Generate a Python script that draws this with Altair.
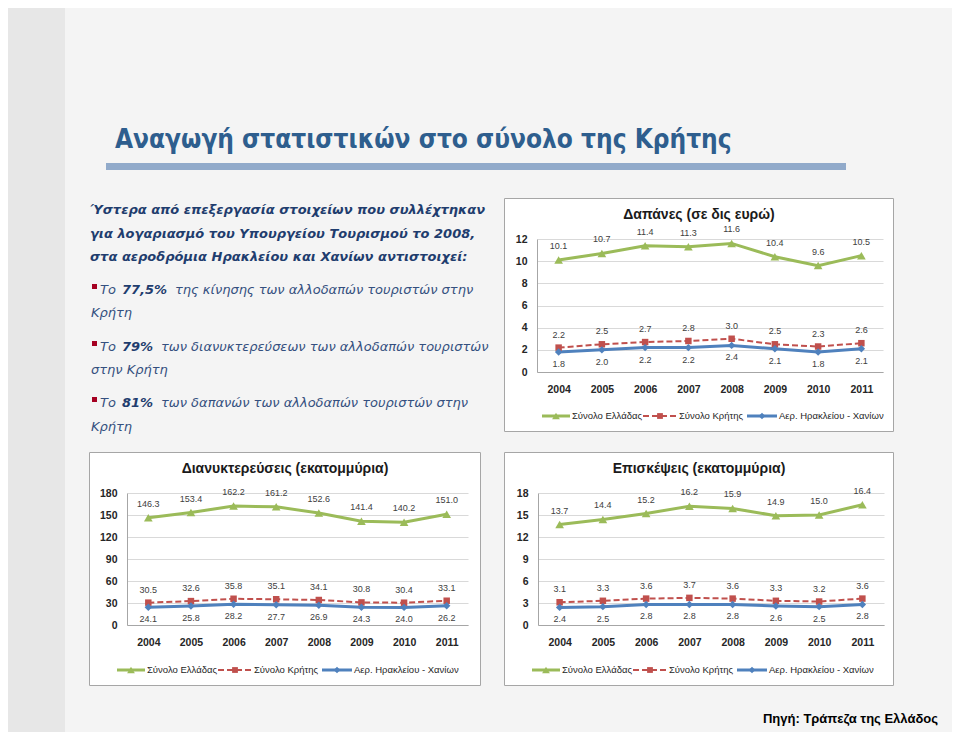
import altair as alt
import pandas as pd

# ---------------- data ----------------
YEARS = ["2004", "2005", "2006", "2007", "2008", "2009", "2010", "2011"]
SERIES = ["Σύνολο Ελλάδας", "Σύνολο Κρήτης", "Αερ. Ηρακλείου - Χανίων"]

dap_title = "Δαπάνες (σε δις ευρώ)"
dap_greece = [10.1, 10.7, 11.4, 11.3, 11.6, 10.4, 9.6, 10.5]
dap_crete = [2.2, 2.5, 2.7, 2.8, 3.0, 2.5, 2.3, 2.6]
dap_air = [1.8, 2.0, 2.2, 2.2, 2.4, 2.1, 1.8, 2.1]
dap_ticks = [0, 2, 4, 6, 8, 10, 12]

dian_title = "Διανυκτερεύσεις (εκατομμύρια)"
dian_greece = [146.3, 153.4, 162.2, 161.2, 152.6, 141.4, 140.2, 151.0]
dian_crete = [30.5, 32.6, 35.8, 35.1, 34.1, 30.8, 30.4, 33.1]
dian_air = [24.1, 25.8, 28.2, 27.7, 26.9, 24.3, 24.0, 26.2]
dian_ticks = [0, 30, 60, 90, 120, 150, 180]

epi_title = "Επισκέψεις (εκατομμύρια)"
epi_greece = [13.7, 14.4, 15.2, 16.2, 15.9, 14.9, 15.0, 16.4]
epi_crete = [3.1, 3.3, 3.6, 3.7, 3.6, 3.3, 3.2, 3.6]
epi_air = [2.4, 2.5, 2.8, 2.8, 2.8, 2.6, 2.5, 2.8]
epi_ticks = [0, 3, 6, 9, 12, 15, 18]

SLIDE_TITLE = "Αναγωγή στατιστικών στο σύνολο της Κρήτης"
HEAD_LINES = [
    "Ύστερα από επεξεργασία στοιχείων που συλλέχτηκαν",
    "για λογαριασμό του Υπουργείου Τουρισμού το 2008,",
    "στα αεροδρόμια Ηρακλείου και Χανίων αντιστοιχεί:",
]
BULLET_PCT = ["77,5%", "79%", "81%"]
BULLET_REST = [
    "της κίνησης των αλλοδαπών τουριστών στην",
    "των διανυκτερεύσεων των αλλοδαπών τουριστών",
    "των δαπανών των αλλοδαπών τουριστών στην",
]
BULLET_CONT = ["Κρήτη", "στην Κρήτη", "Κρήτη"]
SOURCE = "Πηγή: Τράπεζα της Ελλάδος"

# ---------------- styles ----------------
FONT = "Liberation Sans"
TFONT = "DejaVu Sans"
BAND = "#E7E7E7"
STYLES = [
    dict(color="#9BBB59", shape="triangle-up", size=75, width=3, dash=None, dy=-14),
    dict(color="#C0504D", shape="square", size=42, width=2, dash=[6, 3], dy=-13),
    dict(color="#4F81BD", shape="diamond", size=55, width=3, dash=None, dy=12),
]
LEG = [(28, 56, 58), (129, 163, 165), (233, 263, 265)]


def one(**cols):
    return alt.Chart(pd.DataFrame({k: [v] for k, v in cols.items()}))


def band(h):
    return one(t="band").mark_rect(color=BAND).encode(
        x=alt.value(0), x2=alt.value(57), y=alt.value(0), y2=alt.value(h))


def panel(title, seriesvals, ticks, W, H, pl, pr, y0, y1, leg_dx, ly):
    recs = []
    for name, vals in zip(SERIES, seriesvals):
        for yr, v in zip(YEARS, vals):
            recs.append({"year": yr, "series": name, "value": v, "label": f"{v:.1f}"})
    df = pd.DataFrame(recs)
    X = alt.X(
        "year:O", sort=YEARS,
        scale=alt.Scale(type="point", range=[pl, pr], padding=0.5),
        axis=alt.Axis(title=None, labelAngle=0, ticks=False, tickSize=0, grid=False,
                      domainColor="#A6A6A6", labelFont=FONT, labelFontSize=10.5,
                      labelFontWeight="bold", labelColor="#262626", labelPadding=12,
                      offset=-(H - y0)),
    )
    Y = alt.Y(
        "value:Q",
        scale=alt.Scale(domain=[ticks[0], ticks[-1]], range=[y0, y1], nice=False, zero=False),
        axis=alt.Axis(title=None, values=ticks, ticks=False, tickSize=0, grid=True,
                      gridColor="#D9D9D9", domainColor="#A6A6A6", labelFont=FONT,
                      labelFontSize=10.5, labelFontWeight="bold", labelColor="#262626",
                      labelPadding=10, offset=-pl),
    )
    frame = one(t="frame").mark_rect(fillOpacity=0, stroke="#A6A6A6", strokeWidth=1).encode(
        x=alt.value(0.5), x2=alt.value(W - 0.5), y=alt.value(0.5), y2=alt.value(H - 0.5))
    base = alt.Chart(df)
    lines, points, labels, legend = [], [], [], []
    for i, (name, st) in enumerate(zip(SERIES, STYLES)):
        sub = base.transform_filter(alt.datum.series == name)
        lk = dict(color=st["color"], strokeWidth=st["width"])
        if st["dash"]:
            lk["strokeDash"] = st["dash"]
        lines.append(sub.mark_line(**lk).encode(x=X, y=Y))
        points.append(sub.mark_point(filled=True, opacity=1, shape=st["shape"],
                                     size=st["size"], color=st["color"]).encode(x=X, y=Y))
        labels.append(sub.mark_text(dy=st["dy"], fontSize=9, font=FONT, color="#404040")
                      .encode(x=X, y=Y, text="label:N"))
        a, b, t = LEG[i]
        lg = one(s=name)
        legend.append(lg.mark_rule(**lk).encode(x=alt.value(a + leg_dx), x2=alt.value(b + leg_dx),
                                                 y=alt.value(ly)))
        legend.append(lg.mark_point(filled=True, opacity=1, shape=st["shape"],
                                    size=st["size"] * 0.8, color=st["color"])
                      .encode(x=alt.value((a + b) / 2 + leg_dx), y=alt.value(ly)))
        legend.append(lg.mark_text(align="left", baseline="middle", font=FONT, fontSize=9.5,
                                   color="#262626")
                      .encode(x=alt.value(t + leg_dx), y=alt.value(ly), text="s:N"))
    ttl = one(t=title).mark_text(font=FONT, fontSize=14, fontWeight="bold", color="#1A1A1A",
                                 baseline="middle").encode(x=alt.value(W / 2), y=alt.value(17),
                                                           text="t:N")
    return alt.layer(frame, *lines, *points, *labels, *legend, ttl).properties(
        width=W, height=H,
        view=alt.ViewBackground(fill="white", strokeWidth=0),
    )


# ---------------- header ----------------
header = alt.layer(
    band(190),
    one(t=SLIDE_TITLE).mark_text(
        align="left", baseline="alphabetic",
        font="DejaVu Sans Condensed, Liberation Sans, sans-serif",
        fontSize=26, fontWeight="bold", color="#2E5E8E",
    ).encode(x=alt.value(107), y=alt.value(140), text="t:N"),
    one(t="bar").mark_rect(color="#91AACA").encode(
        x=alt.value(98), x2=alt.value(838), y=alt.value(155), y2=alt.value(162)),
).properties(width=944, height=190)

# ---------------- text panel ----------------
HEAD_COLOR = "#1F3D6E"
BODY_COLOR = "#34507F"
head_y = [12, 36, 59]
bul_y = [92, 149, 205]
cont_y = [115, 172, 229]
rest_x = [167, 153, 153]

tlayers = [band(254)]
for txt, yy in zip(HEAD_LINES, head_y):
    tlayers.append(one(t=txt).mark_text(align="left", baseline="middle", font=TFONT, fontSize=13,
                                        fontStyle="italic", fontWeight="bold", color=HEAD_COLOR)
                   .encode(x=alt.value(82), y=alt.value(yy), text="t:N"))
for pct, rest, cont, yy, yc, rx in zip(BULLET_PCT, BULLET_REST, BULLET_CONT, bul_y, cont_y, rest_x):
    tlayers.append(one(t="b").mark_rect(color="#A50021").encode(
        x=alt.value(84), x2=alt.value(89), y=alt.value(yy - 6), y2=alt.value(yy - 1)))
    tlayers.append(one(t="Το").mark_text(align="left", baseline="middle", font=TFONT, fontSize=13,
                                         fontStyle="italic", color=BODY_COLOR)
                   .encode(x=alt.value(92), y=alt.value(yy), text="t:N"))
    tlayers.append(one(t=pct).mark_text(align="left", baseline="middle", font=TFONT, fontSize=13,
                                        fontStyle="italic", fontWeight="bold", color=HEAD_COLOR)
                   .encode(x=alt.value(114), y=alt.value(yy), text="t:N"))
    tlayers.append(one(t=rest).mark_text(align="left", baseline="middle", font=TFONT, fontSize=13,
                                         fontStyle="italic", color=BODY_COLOR)
                   .encode(x=alt.value(rx), y=alt.value(yy), text="t:N"))
    tlayers.append(one(t=cont).mark_text(align="left", baseline="middle", font=TFONT, fontSize=13,
                                         fontStyle="italic", color=BODY_COLOR)
                   .encode(x=alt.value(83), y=alt.value(yc), text="t:N"))
textpanel = alt.layer(*tlayers).properties(width=496, height=254)

# ---------------- charts ----------------
chart1 = panel(dap_title, [dap_greece, dap_crete, dap_air], dap_ticks,
               390, 234, 33, 379, 174, 41, 10, 218)
chart2 = panel(dian_title, [dian_greece, dian_crete, dian_air], dian_ticks,
               392, 234, 38, 379, 173, 41, 0, 218)
chart3 = panel(epi_title, [epi_greece, epi_crete, epi_air], epi_ticks,
               390, 234, 34, 380, 173, 41, 0, 218)

spacer = band(254).properties(width=58, height=254)

footer = alt.layer(
    band(26),
    one(t=SOURCE).mark_text(align="right", baseline="middle", font=FONT, fontSize=13,
                            fontWeight="bold", color="#000000").encode(
        x=alt.value(930), y=alt.value(13), text="t:N"),
).properties(width=944, height=26)

row1 = alt.hconcat(textpanel, chart1, spacing=0)
row2 = alt.hconcat(spacer, chart2, chart3, spacing=23)

chart = alt.vconcat(header, row1, row2, footer, spacing=0).properties(
    padding=0, background="#F4F4F4"
).configure_view(strokeWidth=0)

chart.save("out.html", embed_options={"renderer": "svg", "actions": False})
